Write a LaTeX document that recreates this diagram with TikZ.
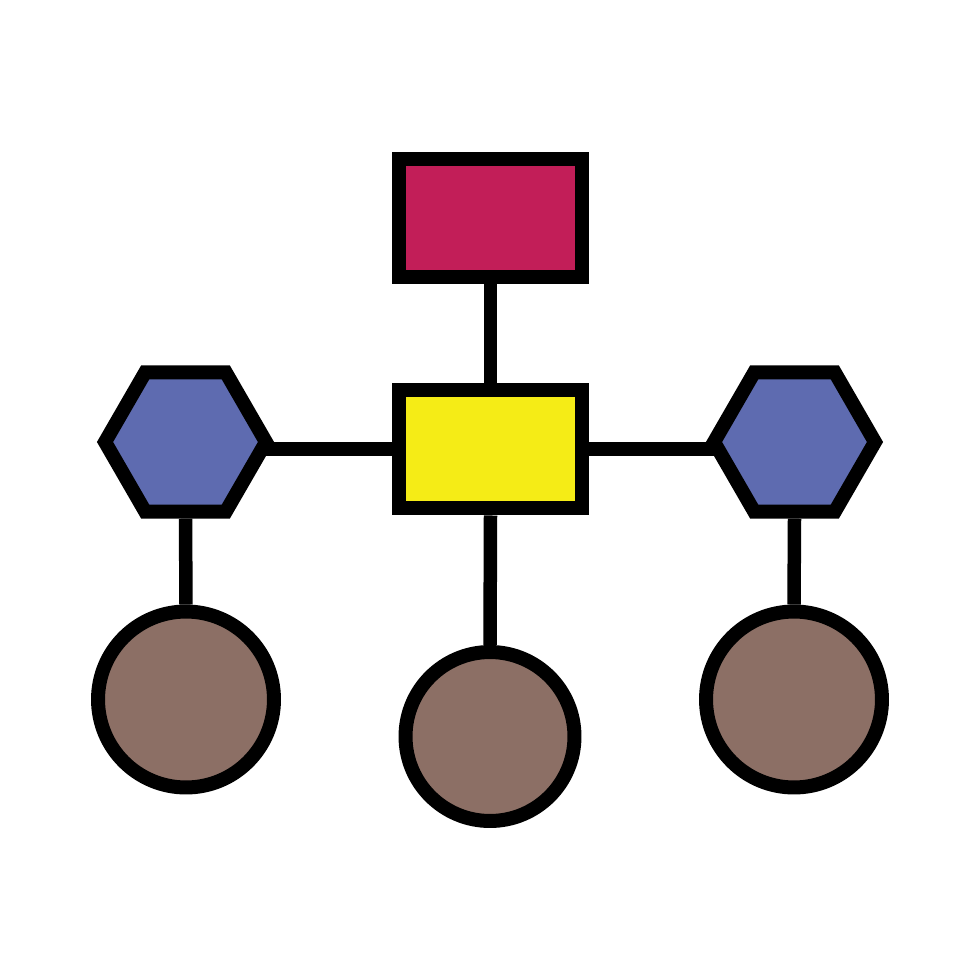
\documentclass[tikz,border=0pt]{standalone}
\usepackage{tikz}
\usetikzlibrary{shapes.geometric,backgrounds}
\definecolor{boxred}{RGB}{194,30,88}
\definecolor{boxyellow}{RGB}{245,236,22}
\definecolor{hexblue}{RGB}{94,107,176}
\definecolor{dotbrown}{RGB}{140,111,101}

\begin{document}
\begin{tikzpicture}[x=0.02cm, y=-0.02cm,
		box/.style={draw=black, line width=0.28cm, inner sep=0pt, minimum width=3.66cm, minimum height=2.38cm},
		hexa/.style={draw=black, line width=0.28cm, regular polygon, regular polygon sides=6, inner sep=0pt, minimum size=3.22cm, fill=hexblue},
		dot/.style={draw=black, line width=0.28cm, circle, inner sep=0pt, fill=dotbrown},
		link/.style={line width=0.27cm, color=black}]
		%%%%% START %%%%%
		
		\useasboundingbox (0, 0) rectangle (980, 980);
		
		\node[box, fill=boxred] (top) at (490.5, 218) {};
		\node[box, fill=boxyellow] (mid) at (490.5, 449) {};
		
		\node[hexa] (lhex) at (185.5, 442) {};
		\node[hexa] (rhex) at (794.5, 442) {};
		
		\node[dot, minimum size=3.52cm] (ldot) at (186, 699.5) {};
		\node[dot, minimum size=3.38cm] (mdot) at (490, 736.5) {};
		\node[dot, minimum size=3.52cm] (rdot) at (794, 699.5) {};
		
		\begin{pgfonlayer}{background}
			\draw[link] (top.south) -- (mid.north);
			\draw[link] (mid.west) -- (mid.west -| lhex.center);
			\draw[link] (mid.east) -- (mid.east -| rhex.center);
			\draw[link] (mid.south) -- (mdot.north);
			
			\draw[link] (lhex.south) -- (ldot.north);
			\draw[link] (rhex.south) -- (rdot.north);
		\end{pgfonlayer}
		
		%%%%% END %%%%%
	\end{tikzpicture}
\end{document}
